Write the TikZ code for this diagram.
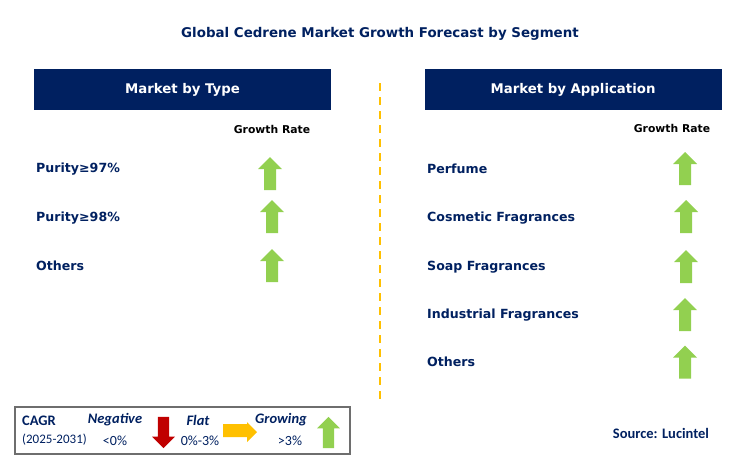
\documentclass[tikz,border=0pt]{standalone}
\usepackage{fontspec}
\setmainfont{DejaVu Sans}
\newfontfamily\legendfont{Carlito}
\definecolor{navy}{RGB}{0,32,96}
\definecolor{upgreen}{RGB}{146,208,80}
\definecolor{flatyellow}{RGB}{255,192,0}
\definecolor{downred}{RGB}{192,0,0}
\definecolor{boxgray}{RGB}{110,110,110}

\tikzset{
  header/.style={fill=navy,text=white,font=\bfseries\fontsize{13.3}{15}\selectfont,
    minimum width=297,minimum height=41,inner sep=0},
  item/.style={anchor=west,text=navy,font=\bfseries\fontsize{12.6}{14}\selectfont,inner sep=0},
  rate/.style={text=black,font=\bfseries\fontsize{10.8}{12}\selectfont,inner sep=0},
  legtext/.style={text=navy,font=\legendfont\fontsize{14}{16}\selectfont,inner sep=0},
  legbold/.style={legtext,font=\legendfont\bfseries\fontsize{14.5}{16}\selectfont},
  legitalic/.style={legtext,font=\legendfont\bfseries\itshape\fontsize{14.5}{16}\selectfont},
  pics/blockarrow/.style={code={
    \fill[#1] (0,-16.5) -- (12,-4.5) -- (6,-4.5) -- (6,16.5)
      -- (-6,16.5) -- (-6,-4.5) -- (-12,-4.5) -- cycle;
  }},
  pics/blockarrow/.default=upgreen,
}

\begin{document}
\begin{tikzpicture}[x=1pt,y=-1pt]
  \useasboundingbox (0,0) rectangle (732,464);

  % title
  \node[text=navy,font=\bfseries\fontsize{13.4}{15}\selectfont] (title) at (380,34)
    {Global Cedrene Market Growth Forecast by Segment};

  % headers
  \node[header] (typehead) at (182.5,89.5) {Market by Type};
  \node[header] (apphead) at (573,89.5) {Market by Application};

  % divider
  \coordinate (divtop) at (380,83);
  \coordinate (divbot) at (380,399);
  \draw[flatyellow,line width=2.5,dash pattern=on 7.5 off 6.5] (divtop) -- (divbot);

  \node[rate] (typerate) at (272,129) {Growth Rate};
  \node[rate] (apprate) at (672,128) {Growth Rate};

  % market by type
  \node[item] (t1) at (36,169) {Purity≥97\%};
  \node[item] (t2) at (36,218) {Purity≥98\%};
  \node[item] (t3) at (36,266) {Others};
  \pic at (270,173.5) {blockarrow};
  \pic at (272,216.5) {blockarrow};
  \pic at (272,265.5) {blockarrow};

  % market by application
  \node[item] (a1) at (427,169) {Perfume};
  \node[item] (a2) at (427,218) {Cosmetic Fragrances};
  \node[item] (a3) at (427,267) {Soap Fragrances};
  \node[item] (a4) at (427,315) {Industrial Fragrances};
  \node[item] (a5) at (427,362) {Others};
  \pic at (685,168.5) {blockarrow};
  \pic at (686,216.5) {blockarrow};
  \pic at (686,266.5) {blockarrow};
  \pic at (685,314.5) {blockarrow};
  \pic at (685,362) {blockarrow};

  % legend
  \draw[boxgray,line width=1.3] (15,407) rectangle (350,454);
  \node[legbold,anchor=west] (cagr) at (22,421) {CAGR};
  \node[legtext,anchor=west,font=\legendfont\fontsize{13}{15}\selectfont] (years) at (22,440) {(2025-2031)};
  \node[legitalic] (neg) at (115,420) {Negative};
  \node[legtext] (negval) at (115,441) {<0\%};
  \node[legitalic] (flat) at (198,420) {Flat};
  \node[legtext] (flatval) at (200,441) {0\%-3\%};
  \node[legitalic] (grow) at (281,420) {Growing};
  \node[legtext] (growval) at (290,441) {>3\%};
  \pic[rotate=180,scale=0.94] at (163.5,432.5) {blockarrow=downred};
  \fill[flatyellow] (223,424) -- (247,424) -- (247,422) -- (257,432) -- (247,442)
    -- (247,437) -- (223,437) -- cycle;
  \pic[scale=0.94] at (328.5,432.5) {blockarrow};

  \node[text=navy,font=\legendfont\bfseries\fontsize{14.5}{16}\selectfont] (source) at (661,433)
    {Source: Lucintel};
\end{tikzpicture}
\end{document}
